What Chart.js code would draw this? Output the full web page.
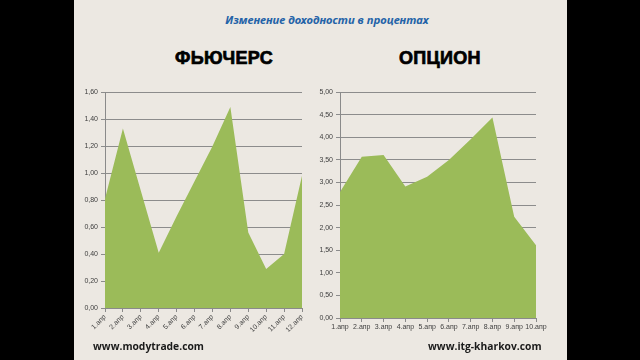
<!DOCTYPE html>
<html>
<head>
<meta charset="utf-8">
<script src="https://cdn.jsdelivr.net/npm/chart.js@4"></script>
<style>
  html, body { margin: 0; padding: 0; background: #000; width: 640px; height: 360px; overflow: hidden; }
  #slide { position: absolute; left: 74px; top: 0; width: 493px; height: 360px; background: #ece8e2; }
  .abs { position: absolute; }
  #head { left: 0; width: 654px; top: 12px; text-align: center; font: italic bold 11.3px "Noto Sans", sans-serif; color: #2463a8; }
  .big { top: 48px; font: bold 18px "Liberation Sans", Arial, sans-serif; color: #000; -webkit-text-stroke: 0.7px #000; letter-spacing: 0.3px; }
  .foot { top: 339px; font: bold 10.3px "Open Sans", sans-serif; color: #1a1a1a; }
</style>
</head>
<body>
<div id="slide"></div>
<div id="head" class="abs">Изменение доходности в процентах</div>
<div class="abs big" style="left:175px">ФЬЮЧЕРС</div>
<div class="abs big" style="left:399px">ОПЦИОН</div>
<div class="abs" style="left:75px;top:85px;width:235px;height:255px"><canvas id="futChart"></canvas></div>
<div class="abs" style="left:310px;top:85px;width:240px;height:250px"><canvas id="optChart"></canvas></div>
<div class="abs foot" style="left:93px">www.modytrade.com</div>
<div class="abs foot" style="left:428px">www.itg-kharkov.com</div>
<script>
// ====== DATA ======
const futLabels = ['1.апр','2.апр','3.апр','4.апр','5.апр','6.апр','7.апр','8.апр','9.апр','10.апр','11.апр','12.апр'];
const futValues = [0.81, 1.33, 0.87, 0.41, 0.68, 0.94, 1.20, 1.49, 0.56, 0.29, 0.40, 0.98];
const optLabels = ['1.апр','2.апр','3.апр','4.апр','5.апр','6.апр','7.апр','8.апр','9.апр','10.апр'];
const optValues = [2.79, 3.57, 3.61, 2.91, 3.13, 3.50, 3.96, 4.44, 2.24, 1.61];
// ==================

const green = '#9bbb59';
const fmt = v => v.toFixed(2).replace('.', ',');

function makeChart(id, labels, values, yMax, yStep, rotate, pad, xHeight) {
    return new Chart(document.getElementById(id), {
        type: 'line',
        data: {
            labels: labels,
            datasets: [{
                data: values,
                fill: 'origin',
                backgroundColor: green,
                borderWidth: 0,
                pointRadius: 0,
                tension: 0
            }]
        },
        options: {
            responsive: true,
            maintainAspectRatio: false,
            animation: false,
            layout: { padding: pad },
            plugins: { legend: { display: false }, tooltip: { enabled: false } },
            scales: {
                x: {
                    offset: false,
                    grid: { drawOnChartArea: false, color: '#8a8a8a', tickLength: 4 },
                    border: { color: '#8a8a8a' },
                    ticks: {
                        color: '#404040', font: { family: 'Liberation Sans', size: 7 },
                        maxRotation: rotate, minRotation: rotate, autoSkip: false, padding: 1
                    },
                    afterFit: s => { s.height = xHeight; }
                },
                y: {
                    min: 0, max: yMax,
                    grid: { color: '#8c8c8c', tickLength: 4 },
                    border: { color: '#8a8a8a' },
                    ticks: {
                        stepSize: yStep, color: '#404040', font: { family: 'Liberation Sans', size: 7 },
                        callback: v => fmt(v), padding: 3
                    },
                    afterFit: s => { s.width = 30; }
                }
            }
        }
    });
}

makeChart('futChart', futLabels, futValues, 1.6, 0.2, 45, { top: 6, right: 8, left: 0, bottom: 0 }, 32);
makeChart('optChart', optLabels, optValues, 5, 0.5, 0, { top: 6, right: 14, left: 0, bottom: 0 }, 17);
</script>
</body>
</html>
